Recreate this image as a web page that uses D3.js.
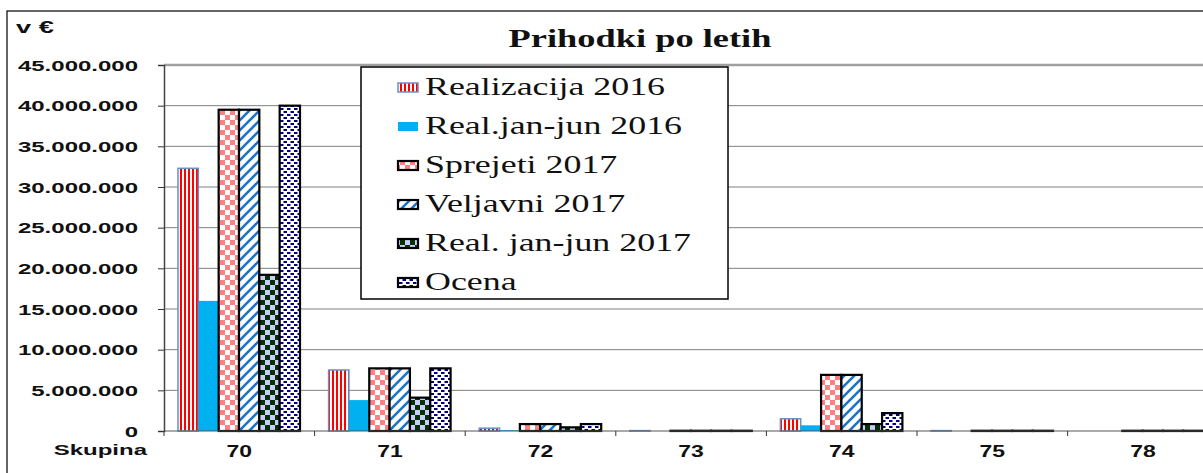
<!DOCTYPE html>
<html>
<head>
<meta charset="utf-8">
<script src="https://cdn.jsdelivr.net/npm/d3@7"></script>
<style>
  body { margin: 0; background: #fff; }
  svg { display: block; }
</style>
</head>
<body>
<div id="chart"></div>
<script>
/* Prihodki po letih — grouped bars with Excel-like fill patterns */

const categories = ['70', '71', '72', '73', '74', '75', '78'];
const seriesNames = ['Realizacija 2016', 'Real.jan-jun 2016', 'Sprejeti 2017', 'Veljavni 2017', 'Real. jan-jun 2017', 'Ocena'];
const real2016 = [32300000, 7500000, 350000, 50000, 1500000, 50000, 0];
const realJanJun2016 = [16000000, 3800000, 100000, 0, 700000, 0, 0];
const sprejeti2017 = [39500000, 7700000, 850000, 30000, 6900000, 30000, 30000];
const veljavni2017 = [39500000, 7700000, 850000, 30000, 6900000, 30000, 30000];
const realJanJun2017 = [19200000, 4100000, 450000, 30000, 850000, 30000, 30000];
const ocena = [40000000, 7700000, 850000, 30000, 2200000, 30000, 30000];
const yTicks = [0, 5000000, 10000000, 15000000, 20000000, 25000000, 30000000, 35000000, 40000000, 45000000];

const seriesValues = [real2016, realJanJun2016, sprejeti2017, veljavni2017, realJanJun2017, ocena];

const W = 1203, H = 473;
const plot = { left: 164, top: 65, bottom: 431, bandW: 150.6 };

const svg = d3.select('#chart').append('svg')
    .attr('width', W)
    .attr('height', H);

// patterns
const defs = svg.append('defs');

const pStripes = defs.append('pattern').attr('id', 'p0')
    .attr('patternUnits', 'userSpaceOnUse').attr('width', 4).attr('height', 4);
pStripes.append('rect').attr('width', 4).attr('height', 4).attr('fill', '#fff');
pStripes.append('rect').attr('width', 2).attr('height', 4).attr('fill', '#ff0000');

const pPink = defs.append('pattern').attr('id', 'p2')
    .attr('patternUnits', 'userSpaceOnUse').attr('width', 10).attr('height', 10);
pPink.append('rect').attr('width', 10).attr('height', 10).attr('fill', '#fff');
pPink.append('rect').attr('width', 5).attr('height', 5).attr('fill', '#ff8080');
pPink.append('rect').attr('x', 5).attr('y', 5).attr('width', 5).attr('height', 5).attr('fill', '#ff8080');

const pDiag = defs.append('pattern').attr('id', 'p3')
    .attr('patternUnits', 'userSpaceOnUse').attr('width', 10).attr('height', 10);
pDiag.append('rect').attr('width', 10).attr('height', 10).attr('fill', '#fff');
pDiag.append('path').attr('d', 'M-2,12 L12,-2 M-2,2 L2,-2 M8,12 L12,8')
    .attr('stroke', '#1874cd').attr('stroke-width', 2.6);

const pGreen = defs.append('pattern').attr('id', 'p4')
    .attr('patternUnits', 'userSpaceOnUse').attr('width', 10).attr('height', 10);
pGreen.append('rect').attr('width', 10).attr('height', 10).attr('fill', '#ccccff');
pGreen.append('rect').attr('width', 5).attr('height', 5).attr('fill', '#003300');
pGreen.append('rect').attr('x', 5).attr('y', 5).attr('width', 5).attr('height', 5).attr('fill', '#003300');

const pDots = defs.append('pattern').attr('id', 'p5')
    .attr('patternUnits', 'userSpaceOnUse').attr('width', 7).attr('height', 6);
pDots.append('rect').attr('width', 7).attr('height', 6).attr('fill', '#fff');
pDots.append('rect').attr('x', 0).attr('y', 0).attr('width', 3.5).attr('height', 2).attr('fill', '#000080');
pDots.append('rect').attr('x', 3.5).attr('y', 3).attr('width', 3.5).attr('height', 2).attr('fill', '#000080');

const fills = ['url(#p0)', '#00b0f0', 'url(#p2)', 'url(#p3)', 'url(#p4)', 'url(#p5)'];
const strokes = ['#6f8fc4', 'none', '#000', '#000', '#000', '#000'];
const strokeW = [1.5, 0, 2.2, 2.2, 2.2, 2.2];

// outer frame
svg.append('rect')
    .attr('x', 7).attr('y', 11)
    .attr('width', W + 10).attr('height', H + 10)
    .attr('fill', 'none').attr('stroke', '#000').attr('stroke-width', 1.2);

// scales
const x = d3.scaleBand()
    .domain(categories)
    .range([plot.left, plot.left + plot.bandW * categories.length]);

const x1 = d3.scaleBand()
    .domain(seriesNames)
    .range([14, 136]);

const y = d3.scaleLinear()
    .domain([0, 45000000])
    .range([plot.bottom, plot.top]);

// gridlines
svg.append('g')
    .selectAll('line')
    .data(yTicks.slice(1))
    .enter()
    .append('line')
    .attr('x1', plot.left).attr('x2', W)
    .attr('y1', d => y(d)).attr('y2', d => y(d))
    .attr('stroke', d => d === 45000000 ? '#a0a0a0' : '#808080')
    .attr('stroke-width', d => d === 45000000 ? 2.5 : 1);

// bars
seriesValues.forEach(function(vals, si) {
    svg.append('g')
        .selectAll('rect')
        .data(vals.map((v, i) => ({ cat: categories[i], v: v })))
        .enter()
        .append('rect')
        .attr('x', d => x(d.cat) + x1(seriesNames[si]))
        .attr('y', d => y(d.v))
        .attr('width', x1.bandwidth())
        .attr('height', d => y(0) - y(d.v))
        .attr('fill', fills[si])
        .attr('stroke', strokes[si])
        .attr('stroke-width', strokeW[si]);
});

// x axis
const xAxis = svg.append('g');
xAxis.append('line')
    .attr('x1', plot.left).attr('x2', W)
    .attr('y1', plot.bottom).attr('y2', plot.bottom)
    .attr('stroke', '#555').attr('stroke-width', 1);
xAxis.selectAll('.xt')
    .data(categories)
    .enter()
    .append('line')
    .attr('x1', d => x(d)).attr('x2', d => x(d))
    .attr('y1', plot.bottom).attr('y2', plot.bottom + 5)
    .attr('stroke', '#333');
xAxis.selectAll('.xl')
    .data(categories)
    .enter()
    .append('text')
    .attr('transform', d => `translate(${x(d) + x.bandwidth() / 2},457) scale(1.35,1)`)
    .attr('text-anchor', 'middle')
    .attr('font-family', 'Liberation Sans, Arial, sans-serif')
    .attr('font-weight', 'bold')
    .attr('font-size', '17px')
    .attr('fill', '#111')
    .text(d => d);

// y axis
const yAxis = svg.append('g')
    .attr('transform', `translate(${plot.left},0)`)
    .call(d3.axisLeft(y).tickValues(yTicks).tickSize(6).tickPadding(0)
        .tickFormat(d => d3.format(',')(d).replace(/,/g, '.')));
yAxis.select('.domain').attr('stroke', '#444').attr('stroke-width', 1.5);
yAxis.selectAll('.tick line').attr('stroke', '#333');
yAxis.selectAll('.tick text')
    .attr('x', null).attr('dy', null)
    .attr('transform', 'translate(-26,5) scale(1.6,1)')
    .attr('font-family', 'Liberation Sans, Arial, sans-serif')
    .attr('font-weight', 'bold')
    .attr('font-size', '15px')
    .attr('fill', '#111');

svg.append('text')
    .attr('transform', 'translate(16,33) scale(1.6,1)')
    .attr('font-family', 'Liberation Sans, Arial, sans-serif')
    .attr('font-weight', 'bold')
    .attr('font-size', '17px')
    .attr('fill', '#111')
    .text('v €');

svg.append('text')
    .attr('transform', 'translate(147,455) scale(1.6,1)')
    .attr('text-anchor', 'end')
    .attr('font-family', 'Liberation Sans, Arial, sans-serif')
    .attr('font-weight', 'bold')
    .attr('font-size', '15px')
    .attr('fill', '#111')
    .text('Skupina');

// title
svg.append('text')
    .attr('transform', 'translate(640,47) scale(1.4,1)')
    .attr('text-anchor', 'middle')
    .attr('font-family', 'Liberation Serif, Times New Roman, serif')
    .attr('font-weight', 'bold')
    .attr('font-size', '26px')
    .attr('fill', '#111')
    .text('Prihodki po letih');

// legend
const legend = svg.append('g');
legend.append('rect')
    .attr('x', 361).attr('y', 67)
    .attr('width', 367).attr('height', 232)
    .attr('fill', '#fff').attr('stroke', '#000').attr('stroke-width', 1.5);

seriesNames.forEach(function(name, i) {
    const by = 95 + i * 39;
    legend.append('rect')
        .attr('x', 398).attr('y', by - 12)
        .attr('width', 20).attr('height', 9)
        .attr('fill', fills[i])
        .attr('stroke', strokes[i])
        .attr('stroke-width', strokeW[i]);
    legend.append('text')
        .attr('transform', `translate(425,${by}) scale(1.38,1)`)
        .attr('font-family', 'Liberation Serif, Times New Roman, serif')
        .attr('font-size', '26px')
        .attr('fill', '#111')
        .text(name);
});
</script>
</body>
</html>
